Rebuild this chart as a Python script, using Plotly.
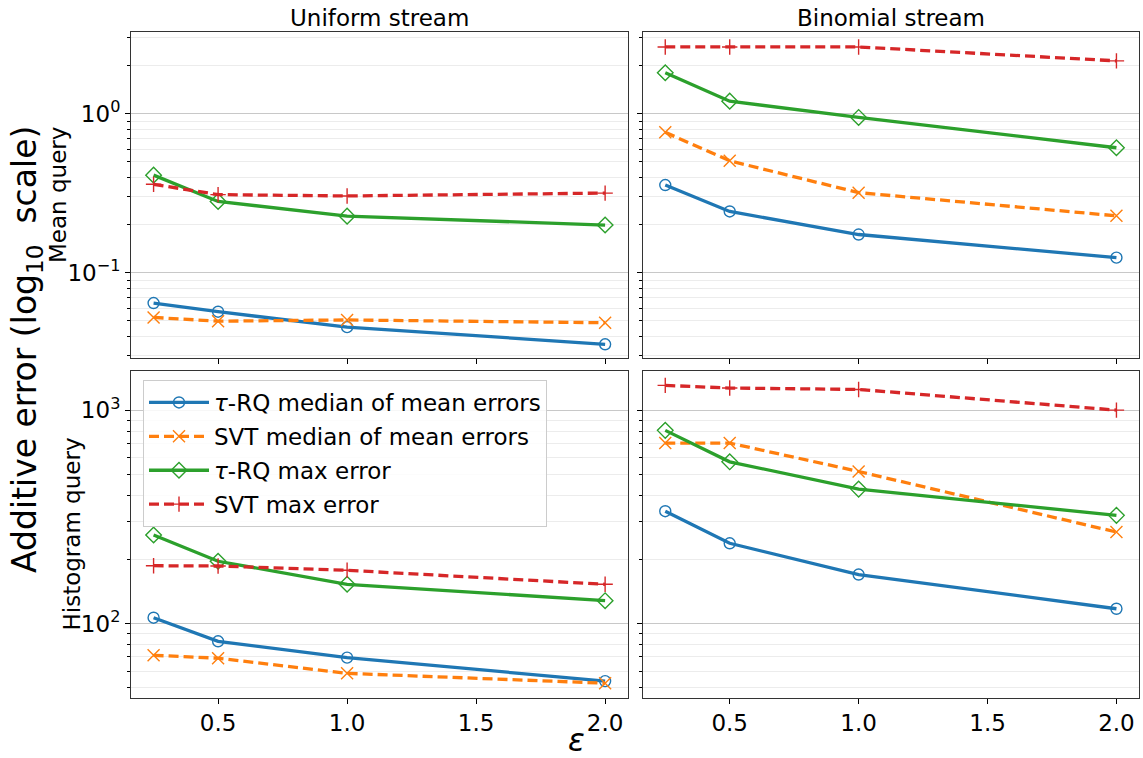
import plotly.graph_objects as go
import numpy as np

# ---------------- data ----------------
eps = [0.25, 0.5, 1.0, 2.0]

series_names = ["<i>τ</i>-RQ median of mean errors", "SVT median of mean errors",
                "<i>τ</i>-RQ max error", "SVT max error"]

# Mean query, uniform stream
mean_uni_tau_med = [0.0645, 0.0569, 0.0455, 0.0355]
mean_uni_svt_med = [0.0524, 0.0496, 0.0505, 0.0485]
mean_uni_tau_max = [0.411, 0.281, 0.227, 0.1995]
mean_uni_svt_max = [0.360, 0.310, 0.304, 0.317]

# Mean query, binomial stream
mean_bin_tau_med = [0.356, 0.243, 0.174, 0.1245]
mean_bin_svt_med = [0.764, 0.506, 0.319, 0.228]
mean_bin_tau_max = [1.81, 1.20, 0.948, 0.611]
mean_bin_svt_max = [2.63, 2.63, 2.63, 2.15]

# Histogram query, uniform stream
hist_uni_tau_med = [106.7, 82.7, 69.3, 53.8]
hist_uni_svt_med = [71.1, 68.9, 58.5, 52.6]
hist_uni_tau_max = [260.6, 196.2, 153.0, 128.2]
hist_uni_svt_max = [187.0, 186.4, 178.0, 153.0]

# Histogram query, binomial stream
hist_bin_tau_med = [336.7, 238.2, 170.0, 117.5]
hist_bin_svt_med = [703.0, 703.0, 517.0, 269.0]
hist_bin_tau_max = [806.0, 574.0, 427.5, 322.0]
hist_bin_svt_max = [1310.0, 1273.0, 1254.0, 1003.0]

col_titles = ["Uniform stream", "Binomial stream"]
row_titles = ["Mean query", "Histogram query"]
x_ticks = [0.5, 1.0, 1.5, 2.0]
x_ticktext = ["0.5", "1.0", "1.5", "2.0"]
y_ticks_top = [0.1, 1.0]
y_ticktext_top = ["10<sup>−1</sup>", "10<sup>0</sup>"]
y_ticks_bot = [100, 1000]
y_ticktext_bot = ["10<sup>2</sup>", "10<sup>3</sup>"]

# ---------------- style ----------------
FONT = "DejaVu Sans"
FS = 23
colors = ["#1f77b4", "#ff7f0e", "#2ca02c", "#d62728"]
symbols = ["circle-open", "x-thin-open", "diamond-open", "cross-thin-open"]
msizes = [11, 12, 12, 11]
dashes = ["solid", "10px,5px", "solid", "10px,5px"]

W, H = 1143, 758
def px_x(p): return p / W
def px_y(p): return 1 - p / H

xdom = [[px_x(131), px_x(627.7)], [px_x(642.7), px_x(1139)]]
ydom = [[px_y(358.3), px_y(32)], [px_y(697.7), px_y(370.7)]]

panels = [
    (0, 0, [mean_uni_tau_med, mean_uni_svt_med, mean_uni_tau_max, mean_uni_svt_max]),
    (0, 1, [mean_bin_tau_med, mean_bin_svt_med, mean_bin_tau_max, mean_bin_svt_max]),
    (1, 0, [hist_uni_tau_med, hist_uni_svt_med, hist_uni_tau_max, hist_uni_svt_max]),
    (1, 1, [hist_bin_tau_med, hist_bin_svt_med, hist_bin_tau_max, hist_bin_svt_max]),
]

fig = go.Figure()
layout = {}
for k, (r, c, data) in enumerate(panels):
    idx = k + 1
    xa = "x" if idx == 1 else f"x{idx}"
    ya = "y" if idx == 1 else f"y{idx}"
    for s in range(4):
        fig.add_trace(go.Scatter(
            x=eps, y=data[s], xaxis=xa, yaxis=ya,
            mode="lines+markers", name=series_names[s],
            legendgroup=f"g{s}", showlegend=(r == 1 and c == 0),
            line=dict(color=colors[s], width=3.3, dash=dashes[s]),
            marker=dict(symbol=symbols[s], size=msizes[s], color=colors[s],
                        line=dict(color=colors[s], width=1.4)),
        ))
    if r == 0:
        yr = [np.log10(0.02898), np.log10(3.266)]
        decs = [0.01, 0.1, 1.0]
        tv, tt = y_ticks_top, y_ticktext_top
    else:
        yr = [np.log10(44.98), np.log10(1535)]
        decs = [10, 100, 1000]
        tv, tt = y_ticks_bot, y_ticktext_bot
    minor_vals = [d * m for d in decs for m in range(2, 10)]
    layout[f"xaxis{'' if idx == 1 else idx}"] = dict(
        domain=xdom[c], anchor=ya, range=[0.1625, 2.0875],
        tickmode="array", tickvals=x_ticks, ticktext=x_ticktext, showticklabels=(r == 1),
        ticks="outside", ticklen=5, tickwidth=1, tickcolor="#000",
        showgrid=False, zeroline=False,
        showline=True, linecolor="#333", linewidth=1, mirror=True,
        tickfont=dict(family=FONT, size=FS, color="#000"),
    )
    layout[f"yaxis{'' if idx == 1 else idx}"] = dict(
        domain=ydom[r], anchor=xa, type="log", range=yr,
        tickmode="array", tickvals=tv, ticktext=tt, showticklabels=(c == 0),
        ticks="outside", ticklen=5, tickwidth=1, tickcolor="#000",
        showgrid=True, gridcolor="#c8c8c8", gridwidth=1.3,
        zeroline=False,
        showline=True, linecolor="#333", linewidth=1, mirror=True,
        tickfont=dict(family=FONT, size=FS, color="#000"),
        minor=dict(tickmode="array", tickvals=minor_vals, ticks="outside",
                   ticklen=3, tickwidth=1, tickcolor="#000",
                   showgrid=True, gridcolor="#ececec", gridwidth=1),
    )

annotations = []
# column titles
for c in range(2):
    annotations.append(dict(text=col_titles[c], xref="paper", yref="paper",
                            x=(xdom[c][0] + xdom[c][1]) / 2, y=px_y(18),
                            xanchor="center", yanchor="middle", showarrow=False,
                            font=dict(family=FONT, size=FS, color="#000")))
# row labels
annotations.append(dict(text=row_titles[0], xref="paper", yref="paper",
                        x=px_x(58), y=px_y(195), textangle=-90,
                        xanchor="center", yanchor="middle", showarrow=False,
                        font=dict(family=FONT, size=FS, color="#000")))
annotations.append(dict(text=row_titles[1], xref="paper", yref="paper",
                        x=px_x(71.5), y=px_y(534), textangle=-90,
                        xanchor="center", yanchor="middle", showarrow=False,
                        font=dict(family=FONT, size=FS, color="#000")))
# super y label
annotations.append(dict(text="Additive error (log<sub>10</sub>  scale)", xref="paper", yref="paper",
                        x=px_x(27), y=px_y(350), textangle=-90,
                        xanchor="center", yanchor="middle", showarrow=False,
                        font=dict(family=FONT, size=33, color="#000")))
# x label
annotations.append(dict(text="<i>ε</i>", xref="paper", yref="paper",
                        x=px_x(576), y=px_y(740),
                        xanchor="center", yanchor="middle", showarrow=False,
                        font=dict(family=FONT, size=31, color="#000")))

fig.update_layout(
    width=W, height=H, autosize=False,
    margin=dict(l=0, r=0, t=0, b=0),
    paper_bgcolor="white", plot_bgcolor="white",
    font=dict(family=FONT, size=FS, color="#000"),
    annotations=annotations,
    legend=dict(x=px_x(143), y=px_y(380), xanchor="left", yanchor="top",
                bgcolor="rgba(255,255,255,0.85)", bordercolor="#cccccc", borderwidth=1,
                font=dict(family=FONT, size=FS, color="#000"),
                tracegroupgap=1, itemwidth=60),
    **layout,
)

fig.write_html("out.html")
